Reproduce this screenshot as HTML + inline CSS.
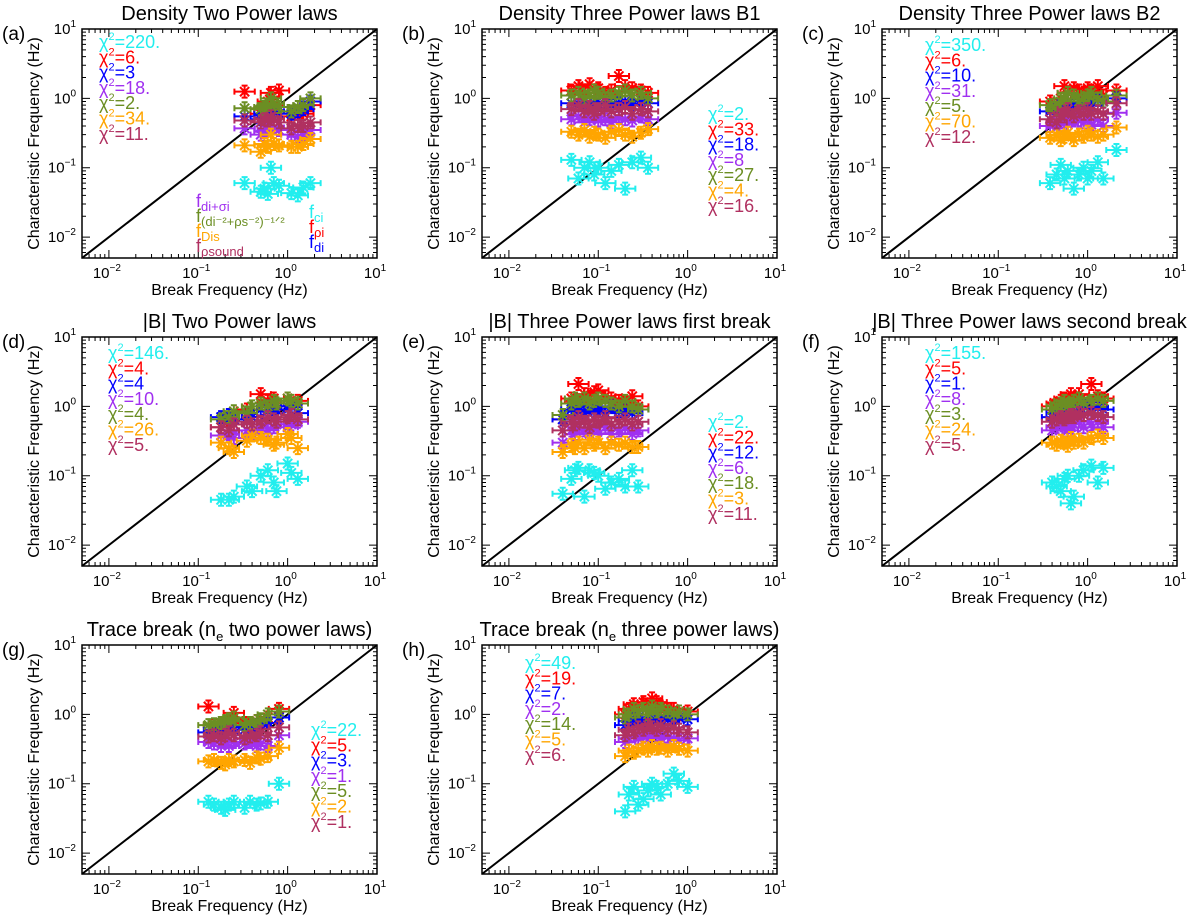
<!DOCTYPE html>
<html><head><meta charset="utf-8"><style>
html,body{margin:0;padding:0;background:#fff;}
svg{display:block;font-family:"Liberation Sans",sans-serif;}
</style></head><body>
<svg id="fig" width="1200" height="924" viewBox="0 0 1200 924"></svg>
<script>
// ---- data: break frequency (x) per event and characteristic frequencies (y) per series ----
const aX=[0.33,0.5,0.55,0.6,0.65,0.7,0.8,1.1,1.3,1.5,1.8];
const aCyan=[0.06,0.045,0.05,0.042,0.1,0.06,0.055,0.043,0.04,0.052,0.06];
const aRed=[1.25,0.6,0.7,0.9,1.2,0.8,1.3,0.55,0.6,0.6,0.8];
const aBlue=[0.55,0.5,0.6,0.55,0.6,0.65,0.6,0.6,0.65,0.7,0.9];
const aPurple=[0.37,0.3,0.33,0.35,0.4,0.38,0.35,0.3,0.28,0.3,0.35];
const aGreen=[0.72,0.7,0.75,0.8,1.0,0.85,0.75,0.65,0.75,0.8,1.0];
const aOrange=[0.21,0.17,0.22,0.2,0.3,0.22,0.21,0.2,0.2,0.22,0.26];
const aMaroon=[0.48,0.45,0.5,0.48,0.55,0.5,0.45,0.37,0.4,0.4,0.45];
const aChi=["220.","6.","3","18.","2.","34.","11."];

const bX=[0.05,0.06,0.07,0.08,0.09,0.1,0.12,0.14,0.17,0.2,0.24,0.3,0.36];
const bCyan=[0.13,0.07,0.1,0.12,0.08,0.1,0.06,0.09,0.11,0.05,0.12,0.14,0.1];
const bRed=[1.3,1.5,1.2,1.6,1.3,1.4,1.2,1.3,2.1,1.5,1.4,1.3,1.2];
const bBlue=[0.85,0.8,0.9,0.75,0.85,0.8,0.9,0.8,0.85,0.9,0.8,0.95,0.85];
const bPurple=[0.5,0.55,0.45,0.5,0.55,0.48,0.5,0.45,0.52,0.5,0.48,0.55,0.5];
const bGreen=[1.1,1.2,1.0,1.1,1.3,1.2,1.0,1.1,1.2,1.3,1.1,1.2,1.0];
const bOrange=[0.33,0.3,0.35,0.28,0.32,0.3,0.27,0.33,0.35,0.3,0.28,0.32,0.36];
const bMaroon=[0.7,0.8,0.65,0.75,0.6,0.7,0.8,0.65,0.7,0.75,0.6,0.7,0.65];
const bChi=["2.","33.","18.","8","27.","4.","16."];

const cX=[0.38,0.45,0.5,0.55,0.6,0.7,0.8,0.9,1.0,1.1,1.3,1.5,2.1];
const cCyan=[0.06,0.08,0.11,0.07,0.09,0.05,0.08,0.1,0.07,0.09,0.12,0.07,0.18];
const cRed=[0.9,0.8,1.0,1.5,1.2,1.4,1.3,1.2,1.4,1.3,1.5,1.1,1.3];
const cBlue=[0.65,0.6,0.7,0.8,0.9,0.8,0.7,0.85,0.9,0.8,0.95,0.9,1.0];
const cPurple=[0.4,0.38,0.45,0.5,0.42,0.48,0.55,0.45,0.5,0.42,0.5,0.4,0.62];
const cGreen=[0.8,0.7,0.9,1.0,1.2,1.1,0.9,1.0,1.1,1.2,1.0,0.9,1.1];
const cOrange=[0.27,0.3,0.25,0.28,0.32,0.25,0.3,0.28,0.33,0.3,0.28,0.3,0.38];
const cMaroon=[0.5,0.45,0.55,0.6,0.7,0.55,0.65,0.6,0.7,0.6,0.65,0.6,0.85];
const cChi=["350.","6.","10.","31.","5.","70.","12."];

const dX=[0.18,0.22,0.25,0.35,0.4,0.5,0.6,0.7,0.75,1.0,1.1,1.3];
const dCyan=[0.045,0.045,0.05,0.07,0.06,0.1,0.12,0.08,0.06,0.15,0.11,0.09];
const dRed=[0.5,0.65,0.55,0.9,0.7,1.5,1.2,1.3,1.0,1.3,1.1,1.2];
const dBlue=[0.7,0.75,0.65,0.8,0.7,0.9,1.0,0.8,0.9,0.9,1.0,0.8];
const dPurple=[0.38,0.4,0.35,0.45,0.4,0.5,0.45,0.5,0.55,0.5,0.55,0.6];
const dGreen=[0.65,0.7,0.85,0.8,1.0,1.1,1.0,1.2,1.1,1.3,1.2,1.1];
const dOrange=[0.3,0.25,0.22,0.32,0.38,0.35,0.33,0.28,0.3,0.4,0.35,0.25];
const dMaroon=[0.5,0.45,0.55,0.6,0.55,0.6,0.7,0.65,0.6,0.7,0.75,0.65];
const dChi=["146.","4.","4","10.","4.","26.","5."];

const eX=[0.04,0.05,0.055,0.06,0.07,0.08,0.09,0.1,0.12,0.14,0.17,0.2,0.24,0.28];
const eCyan=[0.055,0.09,0.12,0.13,0.05,0.12,0.11,0.1,0.065,0.08,0.09,0.07,0.12,0.07];
const eRed=[0.65,1.3,1.2,2.1,1.5,1.3,1.6,1.7,1.4,1.3,1.2,1.1,1.4,1.0];
const eBlue=[0.65,0.9,0.85,1.0,0.8,0.9,0.85,0.95,0.8,1.0,0.85,0.9,0.8,0.9];
const ePurple=[0.3,0.45,0.4,0.5,0.45,0.4,0.5,0.45,0.5,0.4,0.45,0.5,0.4,0.45];
const eGreen=[0.75,1.1,1.3,1.2,1.3,1.1,1.2,1.3,1.2,1.1,1.0,1.2,1.0,0.9];
const eOrange=[0.22,0.28,0.25,0.3,0.25,0.33,0.28,0.3,0.25,0.3,0.28,0.3,0.26,0.26];
const eMaroon=[0.45,0.6,0.55,0.7,0.6,0.5,0.65,0.6,0.7,0.55,0.6,0.65,0.55,0.6];
const eChi=["2.","22.","12.","6.","18.","3.","11."];

const fX=[0.4,0.45,0.5,0.55,0.6,0.65,0.7,0.8,0.9,1.1,1.3,1.5];
const fCyan=[0.08,0.07,0.06,0.09,0.1,0.04,0.05,0.1,0.12,0.14,0.08,0.13];
const fRed=[1.0,1.1,1.2,1.3,1.2,1.5,1.3,1.5,1.2,2.1,1.4,1.3];
const fBlue=[0.7,0.8,0.75,0.8,0.9,0.85,0.8,0.9,1.0,0.9,0.95,0.9];
const fPurple=[0.45,0.5,0.55,0.5,0.45,0.5,0.55,0.6,0.5,0.55,0.6,0.5];
const fGreen=[0.9,1.0,1.1,1.2,1.0,1.1,1.2,1.3,1.1,1.2,1.3,1.2];
const fOrange=[0.3,0.28,0.32,0.3,0.27,0.35,0.3,0.33,0.3,0.35,0.38,0.35];
const fMaroon=[0.6,0.65,0.7,0.65,0.7,0.75,0.7,0.8,0.75,0.8,0.75,0.7];
const fChi=["155.","5.","1.","8.","3.","24.","5."];

const gX=[0.13,0.15,0.18,0.2,0.22,0.25,0.33,0.38,0.45,0.5,0.6,0.8];
const gCyan=[0.055,0.05,0.045,0.042,0.05,0.055,0.045,0.055,0.05,0.052,0.055,0.1];
const gRed=[1.3,0.7,0.7,0.75,0.8,1.05,0.75,0.7,0.8,0.75,0.9,1.2];
const gBlue=[0.55,0.6,0.55,0.6,0.65,0.6,0.6,0.65,0.7,0.7,0.75,0.9];
const gPurple=[0.4,0.38,0.35,0.4,0.35,0.4,0.38,0.4,0.35,0.38,0.35,0.5];
const gGreen=[0.7,0.72,0.75,0.8,0.85,0.9,0.7,0.75,0.8,0.85,1.0,1.1];
const gOrange=[0.21,0.22,0.2,0.19,0.22,0.21,0.22,0.2,0.24,0.23,0.25,0.33];
const gMaroon=[0.48,0.5,0.45,0.5,0.55,0.5,0.45,0.48,0.5,0.55,0.5,0.65];
const gChi=["22.","5.","3.","1.","5.","2.","1."];

const hX=[0.2,0.22,0.25,0.28,0.32,0.36,0.4,0.45,0.5,0.6,0.7,0.8,1.0];
const hCyan=[0.04,0.07,0.09,0.05,0.06,0.08,0.1,0.09,0.07,0.1,0.14,0.11,0.09];
const hRed=[1.0,1.2,1.4,1.1,1.5,1.3,1.7,1.5,1.3,1.2,1.2,1.0,1.1];
const hBlue=[0.7,0.8,0.85,0.9,0.7,0.8,0.85,0.9,0.8,0.85,0.9,0.9,0.85];
const hPurple=[0.4,0.45,0.5,0.45,0.48,0.5,0.45,0.5,0.45,0.48,0.45,0.42,0.45];
const hGreen=[0.9,1.0,1.2,1.1,1.2,1.0,1.3,1.1,1.2,1.1,1.0,1.1,1.0];
const hOrange=[0.25,0.3,0.28,0.3,0.33,0.3,0.35,0.32,0.33,0.3,0.35,0.32,0.3];
const hMaroon=[0.5,0.6,0.55,0.65,0.6,0.7,0.65,0.6,0.7,0.6,0.65,0.6,0.55];
const hChi=["49.","19.","7.","2.","14.","5.","6."];

const tickVals=[0.01,0.1,1,10];
const tickExps=["\u22122","\u22121","0","1"];

// ---- drawing ----
const NS="http://www.w3.org/2000/svg";
const svg=document.getElementById('fig');
const COLORS=["#22eeee","#ff0000","#0000ff","#a030f0","#6b8e23","#ffa500","#b03060"];
const SERIES=["cyan","red","blue","purple","green","orange","maroon"];
const W=295,H=229,LMIN=Math.log10(0.005),LMAX=1;
function mk(tag,attrs,parent){const e=document.createElementNS(NS,tag);for(const k in attrs)e.setAttribute(k,attrs[k]);(parent||svg).appendChild(e);return e;}

const panels=[
 {id:"a",L:82,T:29,title:"Density Two Power laws",x:aX,ys:[aCyan,aRed,aBlue,aPurple,aGreen,aOrange,aMaroon],chi:aChi,lx:17,ly:19},
 {id:"b",L:482,T:29,title:"Density Three Power laws B1",x:bX,ys:[bCyan,bRed,bBlue,bPurple,bGreen,bOrange,bMaroon],chi:bChi,lx:226,ly:91},
 {id:"c",L:882,T:29,title:"Density Three Power laws B2",x:cX,ys:[cCyan,cRed,cBlue,cPurple,cGreen,cOrange,cMaroon],chi:cChi,lx:43,ly:22},
 {id:"d",L:82,T:337,title:"|B| Two Power laws",x:dX,ys:[dCyan,dRed,dBlue,dPurple,dGreen,dOrange,dMaroon],chi:dChi,lx:26,ly:22},
 {id:"e",L:482,T:337,title:"|B| Three Power laws first break",x:eX,ys:[eCyan,eRed,eBlue,ePurple,eGreen,eOrange,eMaroon],chi:eChi,lx:226,ly:91},
 {id:"f",L:882,T:337,title:"|B| Three Power laws second break",x:fX,ys:[fCyan,fRed,fBlue,fPurple,fGreen,fOrange,fMaroon],chi:fChi,lx:43,ly:22},
 {id:"g",L:82,T:645,title:"Trace break (n",sub:"e",title2:" two power laws)",x:gX,ys:[gCyan,gRed,gBlue,gPurple,gGreen,gOrange,gMaroon],chi:gChi,lx:229,ly:91},
 {id:"h",L:482,T:645,title:"Trace break (n",sub:"e",title2:" three power laws)",x:hX,ys:[hCyan,hRed,hBlue,hPurple,hGreen,hOrange,hMaroon],chi:hChi,lx:43,ly:24}
];

panels.forEach(p=>{
 const g=mk('g',{});
 
 
 const sx=v=>p.L+(Math.log10(v)-LMIN)/(LMAX-LMIN)*W;
 const sy=v=>p.T+H-(Math.log10(v)-LMIN)/(LMAX-LMIN)*H;
 const t=mk('text',{x:p.L+W/2,y:p.T-9,'text-anchor':'middle','font-size':20,fill:'#000'},g);
 
 
 t.appendChild(document.createTextNode(p.title));
 if(p.sub){const s=mk('tspan',{'font-size':13,dy:5},t);s.textContent=p.sub;const s2=mk('tspan',{dy:-5},t);s2.textContent=p.title2;}
 const lab=mk('text',{x:p.L-80,y:p.T+11,'font-size':19,fill:'#000'},g);
 
 
 lab.textContent='('+p.id+')';
 const yt=mk('text',{x:0,y:0,'text-anchor':'middle','font-size':16,fill:'#000',transform:`translate(${p.L-43},${p.T+H/2}) rotate(-90)`},g);
 
 
 yt.textContent='Characteristic Frequency (Hz)';
 const xt=mk('text',{x:p.L+W/2,y:p.T+H+37,'text-anchor':'middle','font-size':16,fill:'#000'},g);
 
 
 xt.textContent='Break Frequency (Hz)';
 let d='';
 for(let e=-3;e<=1;e++)for(let m=1;m<=9;m++){
  const v=m*Math.pow(10,e); if(v<0.005-1e-9||v>10+1e-9)continue;
  const len=m===1?8:4;
  const px=sx(v),py=sy(v);
  d+=`M${px},${p.T+H}v${-len}M${px},${p.T}v${len}M${p.L},${py}h${len}M${p.L+W},${py}h${-len}`;
 }
 mk('path',{d:d,stroke:'#000','stroke-width':1,fill:'none'},g);
 tickVals.forEach((v,i)=>{
  const tx=mk('text',{x:sx(v)-2,y:p.T+H+20,'text-anchor':'middle','font-size':15,fill:'#000'},g);
  
  
  tx.appendChild(document.createTextNode('10'));
  const sp=mk('tspan',{'font-size':10,dy:-7},tx);sp.textContent=tickExps[i];
  const ty=mk('text',{x:p.L-6,y:sy(v)+5,'text-anchor':'end','font-size':15,fill:'#000'},g);
  
  
  ty.appendChild(document.createTextNode('10'));
  const sp2=mk('tspan',{'font-size':10,dy:-7},ty);sp2.textContent=tickExps[i];
 });
 const dl=mk('line',{x1:sx(0.005),y1:sy(0.005),x2:sx(10),y2:sy(10),stroke:'#000','stroke-width':2},g);
 
 
 p.ys.forEach((ys,si)=>{
  const sg=mk('g',{stroke:COLORS[si],'stroke-width':2,fill:'none'},g);
  
  
  let pd='';
  ys.forEach((yv,i)=>{
   const xv=p.x[i];
   const cx=sx(xv),cy=sy(yv);
   const x1=sx(xv/1.3),x2=sx(xv*1.3),y1=sy(yv*1.22),y2=sy(yv/1.22);
   pd+=`M${x1},${cy}H${x2}M${x1},${cy-3}v6M${x2},${cy-3}v6`;
   pd+=`M${cx},${y1}V${y2}M${cx-3},${y1}h6M${cx-3},${y2}h6`;
   const r=6.5,q=4.6;
   pd+=`M${cx-r},${cy}h${2*r}M${cx},${cy-r}v${2*r}M${cx-q},${cy-q}l${2*q},${2*q}M${cx-q},${cy+q}l${2*q},${-2*q}`;
  });
  const path=mk('path',{d:pd},sg);
  
  
 });
 mk('rect',{x:p.L,y:p.T,width:W,height:H,fill:'none',stroke:'#000','stroke-width':1.5},g);
 p.chi.forEach((c,i)=>{
  const lt=mk('text',{x:p.L+p.lx,y:p.T+p.ly+i*15.3,'font-size':18,fill:COLORS[i]},g);
  
  
  lt.appendChild(document.createTextNode('\u03c7'));
  const s=mk('tspan',{'font-size':11,dy:-8},lt);s.textContent='2';
  const s2=mk('tspan',{dy:8},lt);s2.textContent='='+c;
 });
});

const ann=[
 {x:196,y:207,f:"f",s:"di+\u03c3i",c:"#a030f0"},
 {x:196,y:222,f:"f",s:"(di\u207b\u00b2+\u03c1s\u207b\u00b2)\u207b\u00b9\u141f\u00b2",c:"#6b8e23"},
 {x:196,y:237,f:"f",s:"Dis",c:"#ffa500"},
 {x:196,y:252,f:"f",s:"\u03c1sound",c:"#b03060"},
 {x:309,y:218,f:"f",s:"ci",c:"#22eeee"},
 {x:309,y:233,f:"f",s:"\u03c1i",c:"#ff0000"},
 {x:309,y:248,f:"f",s:"di",c:"#0000ff"}
];
ann.forEach(a=>{
 const t=mk('text',{x:a.x,y:a.y,'font-size':18,fill:a.c});
 
 
 t.appendChild(document.createTextNode(a.f));
 const s=mk('tspan',{'font-size':13,dy:4},t);s.textContent=a.s;
});
</script>
</body></html>
